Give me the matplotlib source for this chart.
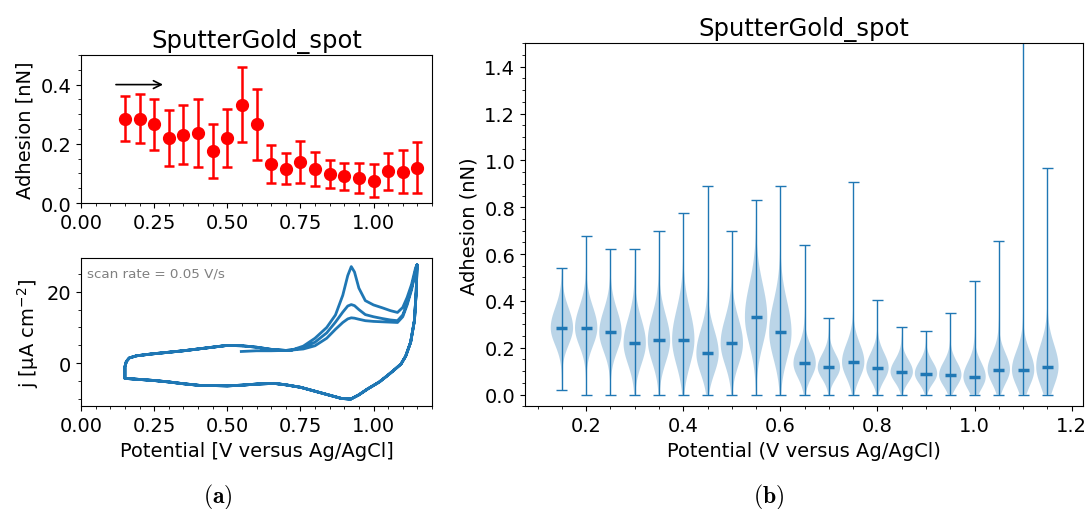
import matplotlib
matplotlib.use('Agg')
import matplotlib.pyplot as plt
import numpy as np

# Данные: потенциалы и адгезия (среднее, ошибка)
potential = [0.15, 0.20, 0.25, 0.30, 0.35, 0.40, 0.45, 0.50, 0.55, 0.60, 0.65,
             0.70, 0.75, 0.80, 0.85, 0.90, 0.95, 1.00, 1.05, 1.10, 1.15]
adh_mean = [0.285, 0.285, 0.266, 0.219, 0.231, 0.235, 0.176, 0.219, 0.332, 0.266, 0.133,
            0.116, 0.139, 0.115, 0.097, 0.090, 0.084, 0.076, 0.107, 0.106, 0.119]
adh_err = [0.077, 0.082, 0.086, 0.094, 0.099, 0.115, 0.092, 0.097, 0.126, 0.120, 0.064,
           0.052, 0.071, 0.057, 0.047, 0.046, 0.050, 0.056, 0.063, 0.072, 0.086]
adh_min = [0.019, 0.0, 0.0, 0.0, 0.0, 0.0, 0.0, 0.0, 0.0, 0.0, 0.0,
           0.0, 0.0, 0.0, 0.0, 0.0, 0.0, 0.0, 0.0, 0.0, 0.0]
adh_max = [0.542, 0.677, 0.620, 0.620, 0.697, 0.774, 0.890, 0.697, 0.832, 0.890, 0.638,
           0.328, 0.909, 0.406, 0.289, 0.271, 0.348, 0.485, 0.657, 1.60, 0.967]

# ЦВА: начало, анодные ветви трёх циклов, катодная ветвь, нижняя анодная часть
cv_start_E = [0.548, 0.60, 0.65, 0.70]
cv_start_j = [3.3, 3.5, 3.5, 3.6]
up_E = [0.72, 0.76, 0.80, 0.84, 0.87, 0.895, 0.912, 0.924, 0.935, 0.95, 0.972, 1.00, 1.03,
        1.058, 1.082, 1.10, 1.115, 1.13, 1.144, 1.149]
up1_j = [3.7, 4.8, 7.0, 10.0, 13.5, 19.0, 24.5, 27.0, 25.5, 21.0, 17.5, 16.3, 15.5,
         14.7, 14.2, 15.6, 18.4, 22.0, 26.7, 27.5]
up2_j = [3.7, 4.4, 5.9, 8.5, 11.5, 14.3, 16.0, 16.4, 16.1, 15.0, 13.6, 13.0, 12.5,
         12.1, 11.9, 13.5, 16.8, 21.0, 26.0, 27.5]
up3_j = [3.7, 4.0, 4.9, 7.0, 9.5, 11.4, 12.4, 12.7, 12.6, 12.3, 11.9, 11.7, 11.6,
         11.5, 11.4, 13.0, 16.3, 20.5, 25.8, 27.5]
cath_E = [1.149, 1.146, 1.140, 1.127, 1.11, 1.094, 1.07, 1.048, 1.02, 0.979, 0.95, 0.922,
          0.89, 0.854, 0.80, 0.751, 0.70, 0.66, 0.60, 0.55, 0.50, 0.45, 0.41, 0.35,
          0.30, 0.25, 0.20, 0.17, 0.152]
cath_j = [27.5, 20.0, 12.0, 5.9, 2.0, -0.2, -1.9, -3.4, -5.2, -7.2, -8.8, -10.0,
          -9.8, -9.0, -7.8, -6.7, -6.0, -5.6, -5.8, -6.1, -6.3, -6.2, -6.2, -5.7,
          -5.2, -4.8, -4.5, -4.3, -4.2]
low_E = [0.15, 0.15, 0.155, 0.165, 0.19, 0.24, 0.30, 0.35, 0.42, 0.50, 0.55, 0.60, 0.65, 0.70]
low_j = [-4.2, -1.0, 0.5, 1.5, 2.1, 2.6, 3.1, 3.5, 4.2, 5.0, 4.9, 4.5, 3.9, 3.6]

cv_E = cv_start_E + up_E + cath_E + low_E + up_E + cath_E + low_E + up_E + cath_E + low_E[:11]
cv_j = cv_start_j + up1_j + cath_j + low_j + up2_j + cath_j + low_j + up3_j + cath_j + low_j[:11]

W, H = 1088, 510
fig = plt.figure(figsize=(W / 100, H / 100), dpi=100)
plt.rcParams['font.size'] = 14

# (a) верх: адгезия с ошибками
ax1 = fig.add_axes([81 / W, 1 - 204 / H, 351 / W, 148 / H])
ax1.errorbar(potential, adh_mean, yerr=adh_err, fmt='o', color='red', ms=8.5,
             elinewidth=1.8, capsize=3.5, capthick=1.8)
ax1.annotate('', xy=(0.29, 0.4), xytext=(0.11, 0.4),
             arrowprops=dict(arrowstyle='->', color='black', lw=1.2))
ax1.set_xlim(0, 1.2)
ax1.set_ylim(0, 0.5)
ax1.set_xticks([0.0, 0.25, 0.5, 0.75, 1.0])
ax1.set_yticks([0.0, 0.2, 0.4])
ax1.xaxis.set_minor_locator(plt.MultipleLocator(0.05))
ax1.yaxis.set_minor_locator(plt.MultipleLocator(0.05))
ax1.tick_params(labelsize=14)
ax1.set_ylabel('Adhesion [nN]', fontsize=14)
ax1.set_title('SputterGold_spot', fontsize=17.5)

# (a) низ: ЦВА
ax2 = fig.add_axes([81 / W, 1 - 407.3 / H, 351 / W, 148.3 / H])
ax2.plot(cv_E, cv_j, color='tab:blue', lw=2.0)
ax2.text(0.018, 0.94, 'scan rate = 0.05 V/s', transform=ax2.transAxes, color='gray',
         fontsize=9.7, va='top', ha='left')
ax2.set_xlim(0, 1.2)
ax2.set_ylim(-12, 29.4)
ax2.set_xticks([0.0, 0.25, 0.5, 0.75, 1.0])
ax2.set_xticklabels(['0.00', '0.25', '0.50', '0.75', '1.00'])
ax2.set_yticks([0, 20])
ax2.xaxis.set_minor_locator(plt.MultipleLocator(0.05))
ax2.yaxis.set_minor_locator(plt.MultipleLocator(5))
ax2.tick_params(labelsize=14)
ax2.set_xlabel('Potential [V versus Ag/AgCl]', fontsize=14)
ax2.set_ylabel('j [µA cm$^{-2}$]', fontsize=14)

# (b): скрипичные диаграммы
vpstats = []
for m, s, lo, hi in zip(adh_mean, adh_err, adh_min, adh_max):
    coords = np.linspace(lo, hi, 300)
    sd = np.where(coords < m, 0.95 * s, 1.1 * s)
    vals = np.exp(-0.5 * ((coords - m) / sd) ** 2)
    vpstats.append(dict(coords=coords, vals=vals, mean=m, median=m, min=lo, max=hi))

ax3 = fig.add_axes([525 / W, 1 - 407.3 / H, 558.3 / W, 363 / H])
parts = ax3.violin(vpstats, positions=potential, widths=0.046, showmeans=True,
                   showextrema=True)
for b in parts['bodies']:
    b.set_facecolor('tab:blue')
    b.set_alpha(0.3)
    b.set_edgecolor('none')
parts['cmeans'].set_linewidth(2.5)
for k in ['cbars', 'cmins', 'cmaxes']:
    parts[k].set_linewidth(1.0)
ax3.set_xlim(0.074, 1.224)
ax3.set_ylim(-0.05, 1.5)
ax3.set_xticks([0.2, 0.4, 0.6, 0.8, 1.0, 1.2])
ax3.set_yticks([0.0, 0.2, 0.4, 0.6, 0.8, 1.0, 1.2, 1.4])
ax3.xaxis.set_minor_locator(plt.MultipleLocator(0.05))
ax3.yaxis.set_minor_locator(plt.MultipleLocator(0.05))
ax3.tick_params(labelsize=14)
ax3.set_xlabel('Potential (V versus Ag/AgCl)', fontsize=14)
ax3.set_ylabel('Adhesion (nN)', fontsize=14)
ax3.set_title('SputterGold_spot', fontsize=17.5)

# подписи (a) и (b)
fig.text(218 / W, 1 - 497 / H, r'$\mathbf{(a)}$', ha='center', va='center',
         fontsize=17, math_fontfamily='cm')
fig.text(769 / W, 1 - 497 / H, r'$\mathbf{(b)}$', ha='center', va='center',
         fontsize=17, math_fontfamily='cm')

fig.savefig('out.png', dpi=100)
